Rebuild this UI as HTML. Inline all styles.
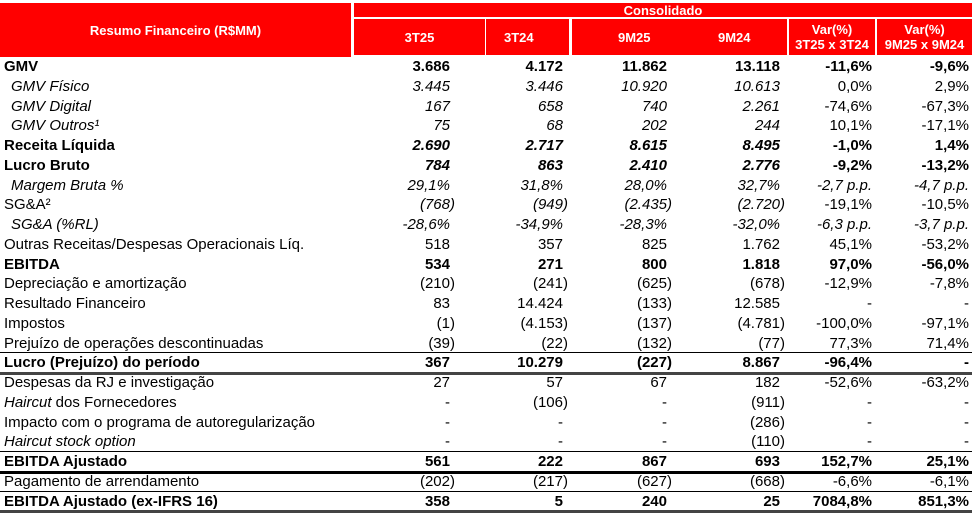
<!DOCTYPE html>
<html><head><meta charset="utf-8">
<style>
html,body{margin:0;padding:0;background:#fff;}
body{width:972px;height:513px;position:relative;overflow:hidden;font-family:"Liberation Sans",Arial,sans-serif;color:#000;}
.h{position:absolute;background:#ff0000;color:#fff;font-weight:bold;font-size:13px;display:flex;align-items:center;justify-content:center;text-align:center;line-height:15px;}
.t{position:absolute;font-size:15px;white-space:nowrap;line-height:20px;}
.ln{position:absolute;left:0;width:972px;background:#000;}
</style></head><body>
<div class="h" style="left:0;top:3px;width:351px;height:54px;">Resumo Financeiro (R$MM)</div>
<div class="h" style="left:354px;top:3px;width:618px;height:14px;">Consolidado</div>
<div class="h" style="left:354px;top:19px;width:131px;height:36px;">3T25</div>
<div class="h" style="left:486px;top:19px;width:83px;height:36px;justify-content:flex-start;padding-left:18px;box-sizing:border-box;">3T24</div>
<div class="h" style="left:572px;top:19px;width:215px;height:36px;"><span style="position:absolute;left:46px;">9M25</span><span style="position:absolute;left:146px;">9M24</span></div>
<div class="h" style="left:789px;top:19px;width:86px;height:36px;">Var(%)<br>3T25 x 3T24</div>
<div class="h" style="left:877px;top:19px;width:95px;height:36px;">Var(%)<br>9M25 x 9M24</div>
<div id="rows"></div>
<script>
const labels=["GMV","GMV Físico","GMV Digital","GMV Outros¹","Receita Líquida","Lucro Bruto","Margem Bruta %","SG&A²","SG&A (%RL)","Outras Receitas/Despesas Operacionais Líq.","EBITDA","Depreciação e amortização","Resultado Financeiro","Impostos","Prejuízo de operações descontinuadas","Lucro (Prejuízo) do período","Despesas da RJ e investigação","Haircut  dos Fornecedores","Impacto com o programa de autoregularização","Haircut stock option","EBITDA Ajustado","Pagamento de arrendamento","EBITDA Ajustado (ex-IFRS 16)"];
const v3T25=["3.686","3.445","167","75","2.690","784","29,1%","(768)","-28,6%","518","534","(210)","83","(1)","(39)","367","27","-","-","-","561","(202)","358"];
const v3T24=["4.172","3.446","658","68","2.717","863","31,8%","(949)","-34,9%","357","271","(241)","14.424","(4.153)","(22)","10.279","57","(106)","-","-","222","(217)","5"];
const v9M25=["11.862","10.920","740","202","8.615","2.410","28,0%","(2.435)","-28,3%","825","800","(625)","(133)","(137)","(132)","(227)","67","-","-","-","867","(627)","240"];
const v9M24=["13.118","10.613","2.261","244","8.495","2.776","32,7%","(2.720)","-32,0%","1.762","1.818","(678)","12.585","(4.781)","(77)","8.867","182","(911)","(286)","(110)","693","(668)","25"];
const varQ=["-11,6%","0,0%","-74,6%","10,1%","-1,0%","-9,2%","-2,7 p.p.","-19,1%","-6,3 p.p.","45,1%","97,0%","-12,9%","-","-100,0%","77,3%","-96,4%","-52,6%","-","-","-","152,7%","-6,6%","7084,8%"];
const varM=["-9,6%","2,9%","-67,3%","-17,1%","1,4%","-13,2%","-4,7 p.p.","-10,5%","-3,7 p.p.","-53,2%","-56,0%","-7,8%","-","-97,1%","71,4%","-","-63,2%","-","-","-","25,1%","-6,1%","851,3%"];
const styles=["B","I","I","I","V","V","I","S","I","","B","","","","","B","","H","","H2","B","","B"];
const rights=[450,563,667,780,872,969];
const cols=[v3T25,v3T24,v9M25,v9M24,varQ,varM];
const root=document.getElementById('rows');
const top0=57,rh=19.75;
labels.forEach((lab,i)=>{
  const y=top0+i*rh, s=styles[i];
  const L=document.createElement('div');
  L.className='t';
  
  
  L.style.top=y+'px';
  const indent=(s==="I"&&i!==0);
  L.style.left=(indent?11:4)+'px';
  if(s==="B"||s==="V")L.style.fontWeight='bold';
  if(indent)L.style.fontStyle='italic';
  if(s==="H")L.innerHTML='<i>Haircut</i>  dos Fornecedores';
  else if(s==="H2"){L.style.fontStyle='italic';L.textContent=lab;}
  else L.textContent=lab;
  root.appendChild(L);
  cols.forEach((c,j)=>{
    const v=c[i];
    const d=document.createElement('div');
    d.className='t';
    
    
    d.style.top=y+'px';
    const paren=v.endsWith(')');
    d.style.right=(972-rights[j]-(paren?5:0))+'px';
    if(s==="B"||(s==="V"&&j>=4))d.style.fontWeight='bold';
    if(s==="V"&&j<4){d.style.fontWeight='bold';d.style.fontStyle='italic';}
    if((s==="I"||s==="S")&&j<4)d.style.fontStyle='italic';
    if(s==="I"&&j>=4&&v.includes('p.p.'))d.style.fontStyle='italic';
    d.textContent=v;
    root.appendChild(d);
  });
});
const lines=[[352,1,'#000'],[372,2.5,'#444'],[451,1,'#000'],[471,2.5,'#000'],[491,1,'#000'],[510,2.5,'#444']];
lines.forEach(l=>{
  const e=document.createElement('div');
  e.className='ln';
  
  
  e.style.top=l[0]+'px';e.style.height=l[1]+'px';e.style.background=l[2];
  root.appendChild(e);
});
</script>
</body></html>
